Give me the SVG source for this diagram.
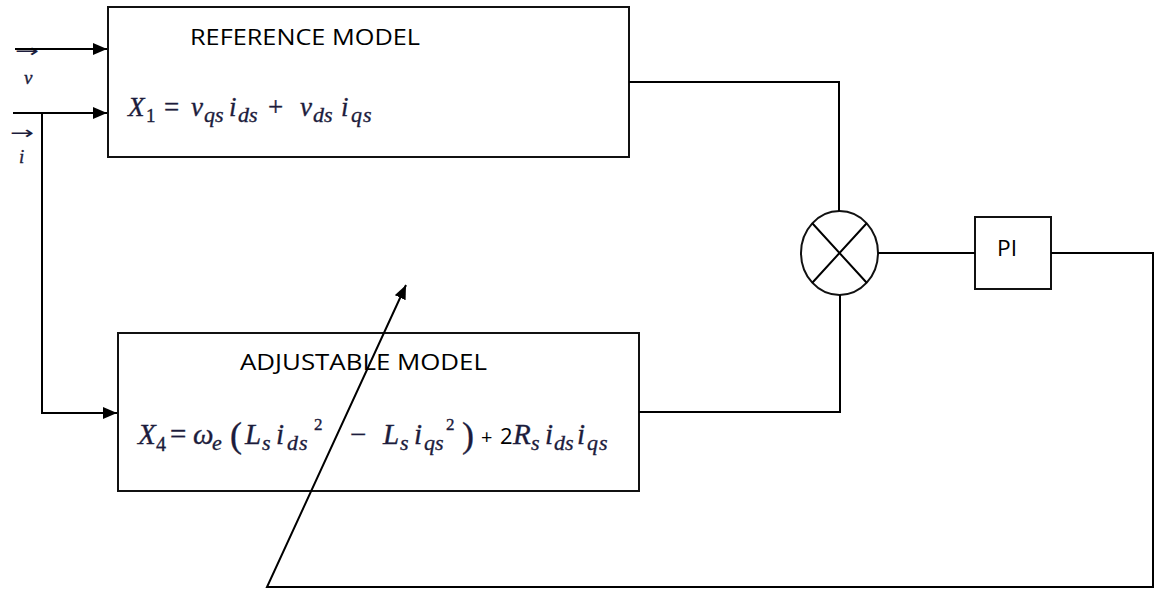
<svg xmlns="http://www.w3.org/2000/svg" width="1159" height="590" viewBox="0 0 1159 590">
<style>
.box{fill:#fff;stroke:#111;stroke-width:2}
.ln{fill:none;stroke:#000;stroke-width:2}
.lbl{font-family:"Open Sans","Liberation Sans",sans-serif;fill:#000}
.math{font-family:"Liberation Serif","DejaVu Serif",serif;font-style:italic;fill:#1c1c3c;stroke:#1c1c3c;stroke-width:0.35}
.up{font-style:normal}
.arr{font-family:"DejaVu Sans",sans-serif;fill:#1c1c3c}
.sans{font-family:"Open Sans","Liberation Sans",sans-serif;font-style:normal;fill:#000;stroke:none}
</style>
<defs>
<marker id="ah" markerWidth="14" markerHeight="12" refX="14" refY="6" orient="auto" markerUnits="userSpaceOnUse">
<path d="M0,0 L14,6 L0,12 z" fill="#000"/>
</marker>
</defs>
<rect width="1159" height="590" fill="#fff"/>

<g id="input-labels">
<text class="arr" x="15" y="57" font-size="18" textLength="24" lengthAdjust="spacingAndGlyphs">→</text>
<text class="math" x="24" y="84" font-size="19">v</text>
<text class="arr" x="10" y="139" font-size="18" textLength="24" lengthAdjust="spacingAndGlyphs">→</text>
<text class="math" x="19" y="163" font-size="19">i</text>
</g>

<g id="reference-model">
<rect class="box" x="108" y="7" width="521" height="150"/>
<text class="lbl" x="190" y="45" font-size="21" textLength="230" lengthAdjust="spacingAndGlyphs">REFERENCE MODEL</text>
<text class="math" font-size="27">
<tspan x="128" y="116">X</tspan><tspan x="146" y="122" font-size="19" class="up">1</tspan><tspan x="164" y="116" class="up">=</tspan><tspan x="191" y="116">v</tspan><tspan x="204" y="122" font-size="22">qs</tspan><tspan x="229" y="116">i</tspan><tspan x="238" y="122" font-size="22">ds</tspan><tspan x="268" y="116" class="up">+</tspan><tspan x="300" y="116">v</tspan><tspan x="313" y="122" font-size="22">ds</tspan><tspan x="341" y="116">i</tspan><tspan x="351" y="122" font-size="22" letter-spacing="1">qs</tspan>
</text>
</g>

<g id="adjustable-model">
<rect class="box" x="118" y="333" width="521" height="158"/>
<text class="lbl" x="240" y="370" font-size="21" textLength="247" lengthAdjust="spacingAndGlyphs">ADJUSTABLE MODEL</text>
<text class="math" font-size="29">
<tspan x="138" y="444">X</tspan><tspan x="156" y="451" font-size="20" class="up">4</tspan><tspan x="170" y="444" class="up">=</tspan><tspan x="193" y="444">ω</tspan><tspan x="212" y="450" font-size="22">e</tspan><tspan x="230" y="447" font-size="36" class="up">(</tspan><tspan x="245" y="444">L</tspan><tspan x="262" y="450" font-size="22">s</tspan><tspan x="276" y="444">i</tspan><tspan x="287" y="450" font-size="22" letter-spacing="1">ds</tspan><tspan x="314" y="430" font-size="17" class="up">2</tspan><tspan x="350" y="444" class="up">−</tspan><tspan x="383" y="444">L</tspan><tspan x="400" y="450" font-size="22">s</tspan><tspan x="414" y="444">i</tspan><tspan x="424" y="450" font-size="22">qs</tspan><tspan x="446" y="430" font-size="17" class="up">2</tspan><tspan x="462" y="447" font-size="36" class="up">)</tspan><tspan x="481" y="444" class="sans" font-size="20">+</tspan><tspan x="500" y="444" class="sans" font-size="22">2</tspan><tspan x="513" y="444">R</tspan><tspan x="531" y="450" font-size="22">s</tspan><tspan x="545" y="444">i</tspan><tspan x="554" y="450" font-size="22">ds</tspan><tspan x="577" y="444">i</tspan><tspan x="587" y="450" font-size="22" letter-spacing="1">qs</tspan>
</text>
</g>

<g id="multiplier">
<ellipse class="box" cx="839.5" cy="253" rx="38.5" ry="42"/>
<path class="ln" d="M812.3,223.3 L866.7,282.7 M866.7,223.3 L812.3,282.7"/>
</g>

<g id="pi">
<rect class="box" x="975" y="217" width="76" height="72"/>
<text class="lbl" x="997" y="256" font-size="21" textLength="20" lengthAdjust="spacingAndGlyphs">PI</text>
</g>

<g id="connectors">
<path class="ln" d="M15,49 H107" marker-end="url(#ah)"/>
<path class="ln" d="M13,113 H107" marker-end="url(#ah)"/>
<path class="ln" d="M42,113 V413 H117" marker-end="url(#ah)"/>
<path class="ln" d="M629,82 H839 V211"/>
<path class="ln" d="M639,412 H840 V295"/>
<path class="ln" d="M878,253 H975"/>
<path class="ln" d="M1051,253 H1153 V587 H267 L406,285" marker-end="url(#ah)"/>
</g>
</svg>
